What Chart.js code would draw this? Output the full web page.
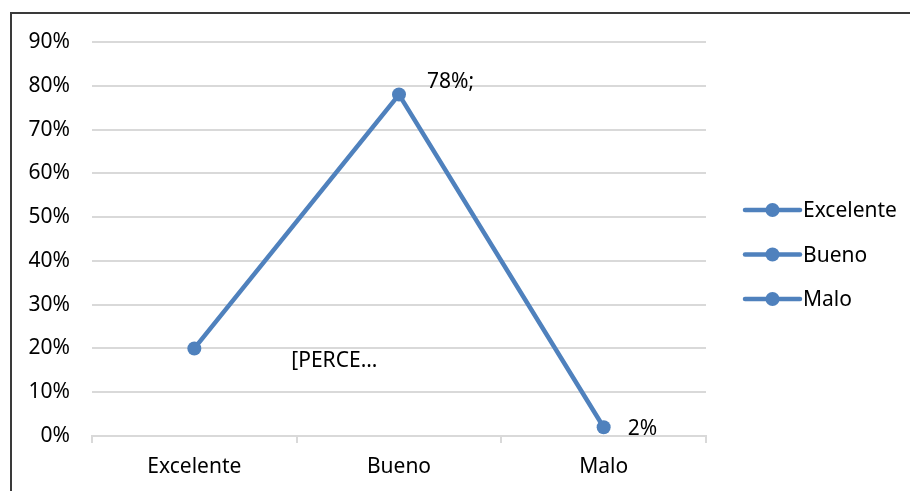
<!DOCTYPE html>
<html>
<head>
<meta charset="utf-8">
<script src="https://cdn.jsdelivr.net/npm/chart.js@4/dist/chart.umd.min.js"></script>
<style>
  html, body { margin: 0; padding: 0; background: #ffffff; }
  #wrap { position: relative; width: 910px; height: 491px; }
</style>
</head>
<body>
<div id="wrap"><canvas id="c" width="910" height="491"></canvas></div>
<script>
// Categories and values (percent)
const categories = ['Excelente', 'Bueno', 'Malo'];
const values = [20, 78, 2];
// Text shown beside each point
const pointLabels = ['[PERCE\u2026', '78%;', '2%'];
// Y axis range and step (percent)
const yMin = 0, yMax = 90, yStep = 10;

const BLUE = '#4F81BD';
const FONT = '"Noto Sans", "Liberation Sans", sans-serif';
const FS = 21;

// Outer frame (top and left edges visible)
const framePlugin = {
  id: 'frame',
  beforeDraw(chart) {
    const ctx = chart.ctx;
    ctx.save();
    ctx.fillStyle = '#ffffff';
    ctx.fillRect(0, 0, chart.width, chart.height);
    ctx.strokeStyle = '#3a3a3a';
    ctx.lineWidth = 2;
    ctx.beginPath();
    ctx.moveTo(11, chart.height + 5);
    ctx.lineTo(11, 13);
    ctx.lineTo(chart.width + 5, 13);
    ctx.stroke();
    ctx.restore();
  }
};

// Text labels beside the points
const labelOffsets = [[97, 13], [28, -13], [24, 2]];
const labelPlugin = {
  id: 'pointText',
  afterDatasetsDraw(chart) {
    const ctx = chart.ctx;
    const meta = chart.getDatasetMeta(0);
    ctx.save();
    ctx.font = FS + 'px ' + FONT;
    ctx.fillStyle = '#000000';
    ctx.textAlign = 'left';
    ctx.textBaseline = 'middle';
    meta.data.forEach((pt, i) => {
      const o = labelOffsets[i];
      ctx.fillText(pointLabels[i], pt.x + o[0], pt.y + o[1]);
    });
    ctx.restore();
  }
};

// Legend on the right: line with marker, one entry per category
const legendPlugin = {
  id: 'sideLegend',
  afterDraw(chart) {
    const ctx = chart.ctx;
    const x0 = 745, x1 = 800, top = 210, gap = 44.5;
    ctx.save();
    ctx.font = FS + 'px ' + FONT;
    ctx.textBaseline = 'middle';
    ctx.textAlign = 'left';
    categories.forEach((name, i) => {
      const y = top + i * gap;
      ctx.strokeStyle = BLUE;
      ctx.lineWidth = 4.5;
      ctx.lineCap = 'round';
      ctx.beginPath();
      ctx.moveTo(x0, y);
      ctx.lineTo(x1, y);
      ctx.stroke();
      ctx.fillStyle = BLUE;
      ctx.beginPath();
      ctx.arc((x0 + x1) / 2, y, 7, 0, Math.PI * 2);
      ctx.fill();
      ctx.fillStyle = '#000000';
      ctx.fillText(name, x1 + 3, y + 1.5);
    });
    ctx.restore();
  }
};

new Chart(document.getElementById('c'), {
  type: 'line',
  data: {
    labels: categories,
    datasets: [{
      label: 'Serie',
      data: values,
      borderColor: BLUE,
      backgroundColor: BLUE,
      borderWidth: 4.5,
      pointRadius: 7,
      pointHoverRadius: 7,
      pointBackgroundColor: BLUE,
      pointBorderColor: BLUE,
      pointBorderWidth: 0,
      tension: 0,
      fill: false
    }]
  },
  options: {
    responsive: false,
    animation: false,
    events: [],
    layout: { padding: { left: 0, top: 42, right: 204, bottom: 0 } },
    plugins: {
      legend: { display: false },
      tooltip: { enabled: false }
    },
    scales: {
      x: {
        offset: true,
        grid: {
          offset: true,
          drawOnChartArea: false,
          drawTicks: true,
          tickLength: 7,
          color: '#D9D9D9',
          lineWidth: 2
        },
        border: { display: true, color: '#D9D9D9', width: 2 },
        ticks: {
          color: '#000000',
          font: { family: FONT, size: FS },
          padding: 11,
          maxRotation: 0
        },
        afterFit(scale) { scale.height = 55; }
      },
      y: {
        min: yMin,
        max: yMax,
        grid: {
          color: '#D9D9D9',
          lineWidth: 2,
          drawTicks: false
        },
        border: { display: false },
        ticks: {
          stepSize: yStep,
          color: '#000000',
          font: { family: FONT, size: FS },
          padding: 22,
          callback: v => v + '%'
        },
        afterFit(scale) { scale.width = 92; }
      }
    }
  },
  plugins: [framePlugin, labelPlugin, legendPlugin]
});
</script>
</body>
</html>
